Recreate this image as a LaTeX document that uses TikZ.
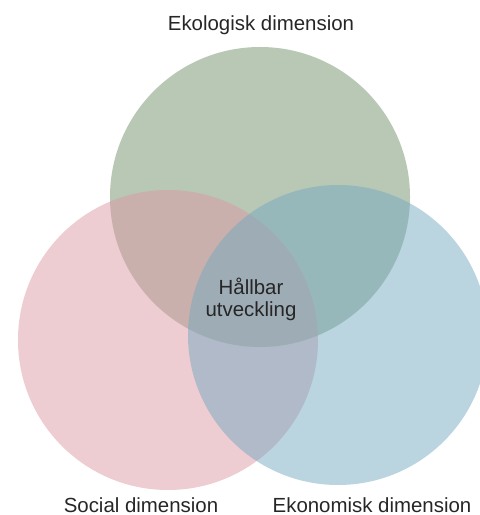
\documentclass[tikz,border=0pt]{standalone}
\usepackage{fontspec}
\setmainfont{Liberation Sans}
\usepackage{tikz}

\definecolor{ekogreen}{RGB}{113,145,107}
\definecolor{socpink}{RGB}{219,153,165}
\definecolor{ekonblue}{RGB}{117,169,193}

\begin{document}
\begin{tikzpicture}[x=1bp, y=-1bp,
    dimcircle/.style={circle, minimum size=300bp, inner sep=0pt, fill opacity=0.5},
    dimlabel/.style={font=\fontsize{20.5}{22}\selectfont, text=black!85}]
    \useasboundingbox (0,0) rectangle (480,515);

    % the three dimensions
    \node[dimcircle, fill=ekogreen] (eko) at (260,197) {};
    \node[dimcircle, fill=socpink] (soc) at (168,340) {};
    \node[dimcircle, fill=ekonblue] (ekon) at (338,335) {};

    % labels
    \node[dimlabel] (ekolabel) at (261,25) {Ekologisk dimension};
    \node[dimlabel, inner sep=0pt, anchor=base] (soclabel) at (141,512) {Social dimension};
    \node[dimlabel, inner sep=0pt, anchor=base] (ekonlabel) at (372,512) {Ekonomisk dimension};
    \node[dimlabel, align=center] (mitt) at (251,299) {Hållbar\\utveckling};
\end{tikzpicture}
\end{document}
